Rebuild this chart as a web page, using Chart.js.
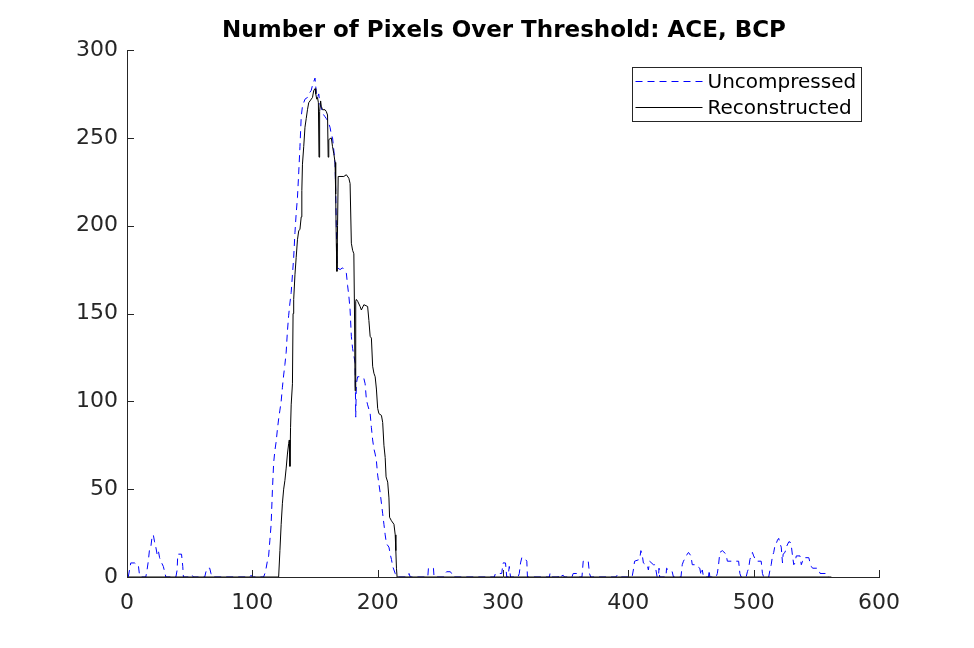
<!DOCTYPE html>
<html>
<head>
<meta charset="utf-8">
<title>Number of Pixels Over Threshold: ACE, BCP</title>
<script src="https://cdn.jsdelivr.net/npm/chart.js@4"></script>
<style>
    html, body { margin: 0; padding: 0; background: #ffffff; }
    canvas { display: block; }
</style>
</head>
<body>
<canvas id="chart" width="974" height="648"></canvas>
<script>
// values (frame index vs pixel count)
const uncompX = [1, 2, 3, 6, 8, 9, 10, 11, 15, 16, 17, 18, 19, 20, 21, 22, 23, 24, 25, 26, 27, 29, 30, 31, 39, 40, 40.5, 43.5, 44.5, 45, 51, 52, 53, 62, 63, 64, 66, 67, 68, 98, 99, 100,
    109, 110, 111, 112, 113, 114, 115, 116, 117, 118, 119, 120, 121, 122, 123, 124, 125, 126, 127, 128, 129, 130, 131, 132, 133, 134, 135, 136, 137, 138, 139, 140,
    141, 142, 144, 145, 146, 147, 148, 149, 150, 151, 152, 153, 154, 155, 156, 157, 158, 159, 160, 161, 162, 163, 164, 165, 166, 166.5, 167, 167.5, 168, 170, 172, 174, 175,
    176, 177, 178, 179, 180, 181, 182, 182.5, 183, 184, 186, 189, 190, 191, 192, 194, 195, 196, 197, 198, 199, 200, 201, 202, 203, 204, 205, 206, 207, 209, 210, 211, 212, 213, 214, 215,
    224, 225, 226, 240, 240.5, 244.5, 245, 253, 254, 255, 258, 259, 260, 293, 294, 299, 300, 302, 303, 304, 305, 306, 312, 313, 314, 315, 317, 319, 319.5,
    337, 337.5, 338, 344, 344.5, 345, 348, 349, 355, 356, 359, 360, 363, 364, 368, 369, 370, 390, 391, 392,
    403, 404, 405, 409, 410, 411, 412, 414, 415, 416, 417, 420, 421, 422, 423, 424, 424.5, 425, 430, 430.5, 432, 433, 435, 436,
    442, 443, 444, 447, 448, 450, 451, 454, 455, 457, 458, 459, 460, 464, 464.5, 465, 470, 471, 472, 473, 475, 478, 479, 488, 489, 490,
    494, 495, 496, 497, 498, 499, 500, 502, 506, 507, 508, 512, 513, 514, 515, 516, 517, 518, 519, 520, 521, 522, 523, 523.5, 525, 526, 528, 529, 530,
    531, 532, 533, 534, 537, 538, 539, 540, 541, 544, 545, 546, 547, 551, 552, 553, 558, 559, 560];
const uncompY = [0, 4, 8, 8, 7, 7, 1, 0, 0, 4, 9, 16, 17, 23, 24, 20, 17, 13, 15, 11, 9, 6, 3, 0, 0, 4, 13, 13, 6, 0, 0, 1, 0, 0, 3, 5, 5, 2, 0, 0, 1, 0,
    0, 2, 5, 9, 12, 21, 30, 49, 65, 72, 77, 84, 90, 95, 100, 108, 115, 121, 128, 140, 149, 156, 162, 172, 182, 196, 207, 216, 230, 245, 262, 268,
    270, 272, 273, 275, 276, 277, 280, 282, 284, 276, 273, 275, 269, 267, 264, 263, 262, 261, 260, 258, 256, 252, 250, 243, 235, 220, 200, 180, 176, 175, 176, 174, 173,
    166, 160, 152, 137, 130, 126, 122, 91, 110, 114, 114, 113, 110, 101, 98, 93, 85, 78, 73, 70, 66, 58, 53, 48, 42, 36, 30, 24, 19, 17, 13, 10, 6, 4, 2, 0,
    0, 2, 0, 0, 5, 5, 0, 0, 2, 3, 3, 2, 0, 0, 2, 2, 8, 8, 0, 0, 6, 0, 0, 2, 8, 11, 11, 9, 0,
    0, 2, 0, 0, 1, 0, 1, 0, 0, 2, 2, 0, 0, 9, 9, 2, 0, 0, 1, 0,
    0, 4, 9, 10, 15, 13, 8, 7, 7, 4, 9, 7, 7, 4, 0, 0, 5, 0, 0, 5, 4, 3, 3, 0,
    0, 7, 9, 13, 14, 12, 7, 7, 6, 5, 1, 4, 0, 0, 4, 0, 0, 2, 7, 14, 15, 13, 9, 9, 2, 0,
    0, 3, 5, 10, 12, 14, 12, 9, 9, 2, 0, 0, 4, 7, 12, 14, 18, 19, 21, 22, 19, 17, 8, 13, 14, 17, 20, 20, 18,
    12, 7, 8, 12, 12, 7, 9, 9, 11, 11, 8, 6, 5, 5, 4, 2, 2, 1, 0];

const reconX = [1, 121, 122, 123, 124, 125, 126, 127, 128, 129, 129.5, 130, 130.5, 131, 132, 132.5, 133, 134, 135, 136, 137, 138, 139, 139.5, 140,
    141, 142, 143, 144, 145, 146, 148, 149, 150, 150.6, 151.4, 152, 152.7, 153.2, 153.7, 154.5, 155, 156, 158, 159, 160, 160.5, 161, 163, 164, 165, 166, 166.5, 167, 167.5,
    168, 168.5, 173, 175, 177, 178, 179, 180, 181, 181.5, 182, 182.5, 183, 184, 186, 187, 189, 192, 193, 194, 195, 196, 197, 198, 199, 200,
    201, 203, 204, 205, 206, 206.7, 208, 209, 209.5, 211, 213, 214, 214.5, 215, 215.5, 562];
const reconY = [0, 0, 15, 30, 42, 50, 55, 62, 70, 76, 78, 63, 85, 98, 110, 150, 158, 172, 182, 192, 197, 198, 205, 220, 235,
    245, 256, 261, 266, 270, 271, 273, 277, 278, 275, 272, 273, 270, 239, 265, 271, 268, 266, 266, 265, 263, 239, 249, 250, 245, 241, 236, 218, 190, 174,
    200, 228, 228, 229, 227, 224, 190, 186, 184, 152, 106, 157, 158, 157, 154, 152, 155, 154, 146, 137, 136, 120, 116, 114, 107, 96,
    93, 92, 88, 75, 68, 57, 54, 45, 34, 32, 30, 24, 15, 5, 0, 0];

const xTicks = [0, 100, 200, 300, 400, 500, 600];
const yTicks = [0, 50, 100, 150, 200, 250, 300];
const seriesNames = ['Uncompressed', 'Reconstructed'];
const chartTitle = 'Number of Pixels Over Threshold: ACE, BCP';

const FONT = "'DejaVu Sans', sans-serif";
const AXIS_COLOR = '#262626';
const toPoints = (xs, ys) => xs.map((x, i) => ({ x, y: ys[i] }));

// MATLAB-like extras: inward ticks, title, boxed legend
const matlabPlugin = {
    id: 'matlabLook',
    afterDraw(chart) {
        const { ctx, chartArea: a, scales } = chart;
        ctx.save();
        ctx.strokeStyle = AXIS_COLOR;
        ctx.lineWidth = 1;
        ctx.setLineDash([]);
        ctx.beginPath();
        for (const v of xTicks) {
            const px = Math.round(scales.x.getPixelForValue(v)) + 0.5;
            ctx.moveTo(px, a.bottom);
            ctx.lineTo(px, a.bottom - 7);
        }
        for (const v of yTicks) {
            const py = Math.round(scales.y.getPixelForValue(v)) + 0.5;
            ctx.moveTo(a.left, py);
            ctx.lineTo(a.left + 7, py);
        }
        ctx.stroke();

        // title
        ctx.fillStyle = '#000000';
        ctx.font = `bold 23px ${FONT}`;
        ctx.textAlign = 'center';
        ctx.textBaseline = 'middle';
        ctx.fillText(chartTitle, (a.left + a.right) / 2 + 1, 31);

        // legend box
        const bx = a.right - 246.5, by = a.top + 17.5, bw = 229, bh = 54;
        ctx.fillStyle = '#ffffff';
        ctx.fillRect(bx, by, bw, bh);
        ctx.strokeStyle = AXIS_COLOR;
        ctx.strokeRect(bx, by, bw, bh);
        chart.data.datasets.forEach((ds, i) => {
            const ly = Math.round(by + 13.5 + i * 26) + 0.5;
            ctx.strokeStyle = ds.borderColor;
            ctx.setLineDash(ds.borderDash || []);
            ctx.beginPath();
            ctx.moveTo(bx + 3, ly);
            ctx.lineTo(bx + 70, ly);
            ctx.stroke();
            ctx.setLineDash([]);
            ctx.fillStyle = '#000000';
            ctx.font = `20px ${FONT}`;
            ctx.textAlign = 'left';
            ctx.fillText(ds.label, bx + 75, ly + 1);
        });
        ctx.restore();
    }
};

new Chart(document.getElementById('chart').getContext('2d'), {
    type: 'scatter',
    data: {
        datasets: [
            {
                label: seriesNames[0],
                data: toPoints(uncompX, uncompY),
                showLine: true,
                borderColor: '#0000ff',
                borderWidth: 1,
                borderDash: [7, 5],
                pointRadius: 0,
                order: 1,
            },
            {
                label: seriesNames[1],
                data: toPoints(reconX, reconY),
                showLine: true,
                borderColor: '#000000',
                borderWidth: 1,
                pointRadius: 0,
                order: 0,
            },
        ],
    },
    options: {
        responsive: false,
        animation: false,
        devicePixelRatio: 1,
        layout: { padding: { top: 50, right: 95, left: 0, bottom: 0 } },
        plugins: {
            legend: { display: false },
            tooltip: { enabled: false },
            title: { display: false },
        },
        scales: {
            x: {
                type: 'linear',
                min: 0,
                max: 600,
                afterFit: (s) => { s.height = 71; },
                afterBuildTicks: (s) => { s.ticks = xTicks.map(v => ({ value: v })); },
                grid: { display: false, drawTicks: false },
                border: { display: true, color: AXIS_COLOR, width: 1 },
                ticks: { color: AXIS_COLOR, font: { family: FONT, size: 22 }, padding: 13, maxRotation: 0 },
            },
            y: {
                type: 'linear',
                min: 0,
                max: 300,
                afterFit: (s) => { s.width = 127; },
                afterBuildTicks: (s) => { s.ticks = yTicks.map(v => ({ value: v })); },
                grid: { display: false, drawTicks: false },
                border: { display: true, color: AXIS_COLOR, width: 1 },
                ticks: { color: AXIS_COLOR, font: { family: FONT, size: 22 }, padding: 9 },
            },
        },
    },
    plugins: [matlabPlugin],
});
</script>
</body>
</html>
